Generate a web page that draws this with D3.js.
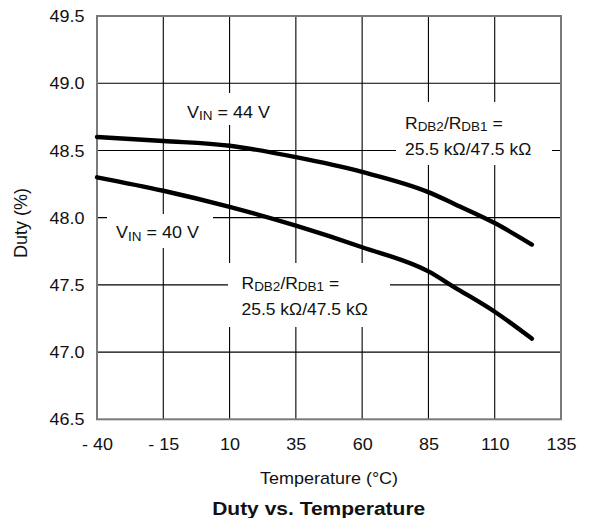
<!DOCTYPE html>
<html>
<head>
<meta charset="utf-8">
<script src="https://cdn.jsdelivr.net/npm/d3@7"></script>
<style>
  html, body { margin: 0; padding: 0; background: #fff; }
  svg { display: block; }
  text { font-family: "Liberation Sans", Arial, Helvetica, sans-serif; fill: #111; }
</style>
</head>
<body>
<svg id="chart" width="590" height="518"></svg>
<script>
// Temperature sweep (°C) and measured duty cycle (%) for the two input voltages
const temps = [-40, -15, 10, 35, 60, 85, 95, 110, 124];
const dutyVin44 = [48.60, 48.57, 48.535, 48.45, 48.34, 48.19, 48.10, 47.96, 47.80];
const dutyVin40 = [48.30, 48.20, 48.08, 47.94, 47.78, 47.60, 47.48, 47.30, 47.10];

// Axis ticks and their printed labels
const xTicks = [-40, -15, 10, 35, 60, 85, 110, 135];
const xTickLabels = ["- 40", "- 15", "10", "35", "60", "85", "110", "135"];
const yTicks = [46.5, 47.0, 47.5, 48.0, 48.5, 49.0, 49.5];
const yTickLabels = ["46.5", "47.0", "47.5", "48.0", "48.5", "49.0", "49.5"];

const svg = d3.select("#chart");
const plotL = 97, plotR = 561, plotT = 16, plotB = 419.3;
const SQ = 0.9; // vertical squeeze applied to horizontal text

const x = d3.scaleLinear().domain([-40, 135]).range([plotL, plotR]);
const y = d3.scaleLinear().domain([46.5, 49.5]).range([plotB, plotT]);

// grid
const grid = svg.append("g");
grid.selectAll("line.v").data(xTicks.slice(1, -1)).join("line")
  .attr("class", "v")
  .attr("x1", d => x(d)).attr("x2", d => x(d))
  .attr("y1", plotT).attr("y2", plotB)
  .attr("stroke", "#000").attr("stroke-width", 1.1);
grid.selectAll("line.h").data(yTicks.slice(1, -1)).join("line")
  .attr("class", "h")
  .attr("x1", plotL).attr("x2", plotR)
  .attr("y1", d => y(d)).attr("y2", d => y(d))
  .attr("stroke", "#000").attr("stroke-width", 1.1);

// white label backgrounds interrupt the grid
const boxes = [
  [180, 93, 98, 32],
  [107, 214, 106, 34],
  [396, 102, 156, 63],
  [228, 263, 162, 64]
];
svg.append("g").selectAll("rect").data(boxes).join("rect")
  .attr("x", d => d[0]).attr("y", d => d[1])
  .attr("width", d => d[2]).attr("height", d => d[3])
  .attr("fill", "#fff");

// frame
svg.append("rect")
  .attr("x", plotL).attr("y", plotT)
  .attr("width", plotR - plotL).attr("height", plotB - plotT)
  .attr("fill", "none").attr("stroke", "#7a7a7a").attr("stroke-width", 2);

// axes (labels only)
const xAxis = d3.axisBottom(x).tickValues(xTicks)
  .tickFormat((d, i) => xTickLabels[i]).tickSize(0);
const gx = svg.append("g").attr("transform", `translate(0,${plotB})`).call(xAxis);
gx.select(".domain").remove();
gx.selectAll("text")
  .attr("y", 0).attr("dy", null)
  .attr("transform", `translate(0,30.7) scale(1,${SQ})`)
  .style("font-size", "18px").style("font-family", "'Liberation Sans', Arial, sans-serif").attr("fill", "#111");

const yAxis = d3.axisLeft(y).tickValues(yTicks)
  .tickFormat((d, i) => yTickLabels[i]).tickSize(0);
const gy = svg.append("g").attr("transform", `translate(${plotL},0)`).call(yAxis);
gy.select(".domain").remove();
gy.selectAll("text")
  .attr("x", 0).attr("dy", null)
  .attr("transform", `translate(-12.5,5.6) scale(1,${SQ})`)
  .style("font-size", "18px").style("font-family", "'Liberation Sans', Arial, sans-serif").attr("fill", "#111");

// curves
const line = d3.line()
  .x(d => x(d[0])).y(d => y(d[1]))
  .curve(d3.curveMonotoneX);
[dutyVin44, dutyVin40].forEach(vals => {
  svg.append("path")
    .datum(temps.map((t, i) => [t, vals[i]]))
    .attr("d", line)
    .attr("fill", "none").attr("stroke", "#000")
    .attr("stroke-width", 4.4).attr("stroke-linecap", "round").attr("stroke-linejoin", "round");
});

// helper for squeezed text
function label(px, py, size, weight, anchor) {
  return svg.append("text")
    .attr("transform", `translate(${px},${py}) scale(1,${SQ})`)
    .attr("text-anchor", anchor || "start")
    .style("font-size", size + "px")
    .style("font-weight", weight || "normal");
}

function vinLabel(px, py, volts) {
  const t = label(px, py, 18);
  t.append("tspan").text("V");
  t.append("tspan").attr("dy", 3).style("font-size", "13.5px").text("IN");
  t.append("tspan").attr("dy", -3).text(" = " + volts + " V");
}
vinLabel(187, 117.5, 44);
vinLabel(116, 237.8, 40);

function ratioLabel(px, py1, py2) {
  const t = label(px, py1, 17.5);
  t.append("tspan").text("R");
  t.append("tspan").attr("dy", 3).style("font-size", "13.5px").text("DB2");
  t.append("tspan").attr("dy", -3).text("/R");
  t.append("tspan").attr("dy", 3).style("font-size", "13.5px").text("DB1");
  t.append("tspan").attr("dy", -3).text(" =");
  label(px, py2, 17.5).text("25.5 k\u03A9/47.5 k\u03A9");
}
ratioLabel(405, 128.5, 155);
ratioLabel(241.5, 288.5, 315);

// axis titles
label(329, 483.5, 18, "normal", "middle").text("Temperature (\u00B0C)");
svg.append("text")
  .attr("transform", "translate(27,223) rotate(-90)")
  .attr("text-anchor", "middle")
  .style("font-size", "18px")
  .text("Duty (%)");

// chart title
label(318.7, 515, 21, "bold", "middle").text("Duty vs. Temperature");
</script>
</body>
</html>
